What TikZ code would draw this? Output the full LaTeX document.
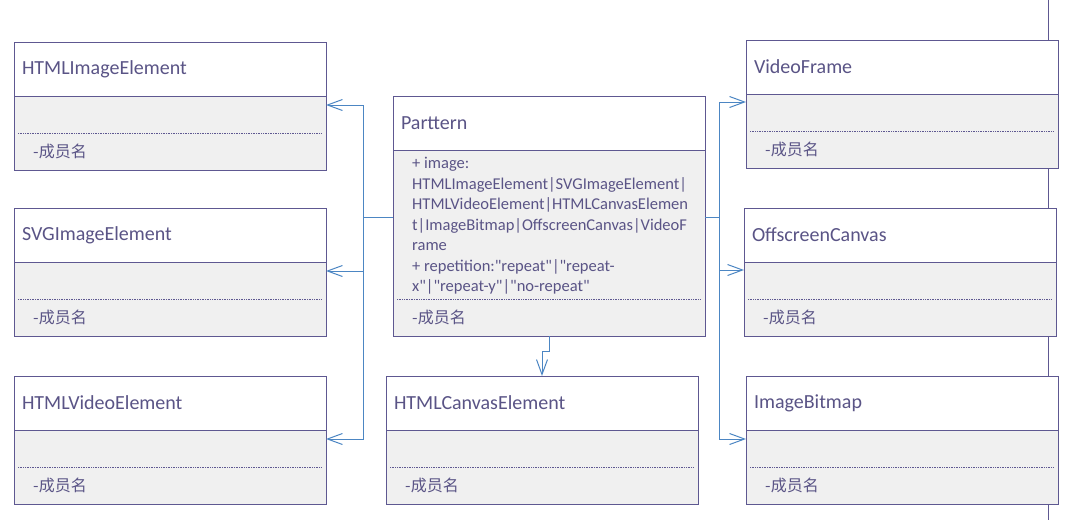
\documentclass[tikz,border=0pt]{standalone}
\usepackage{fontspec}
\setmainfont{Carlito}[Ligatures=TeXOff]
\newfontfamily\cjk{Noto Sans CJK SC}
\usepackage{tikz}
\usetikzlibrary{arrows.meta,positioning}
\definecolor{umlline}{HTML}{5E5891}
\definecolor{umltext}{HTML}{5A5486}
\definecolor{umlfill}{HTML}{F0F0F0}
\definecolor{umllink}{HTML}{4C86C3}
\tikzstyle{classhead} = [draw=umlline, fill=white, rectangle, line width=1pt, outer sep=0pt, text width=296pt, inner xsep=8pt, inner ysep=0pt, minimum height=54pt, align=left, text=umltext, font=\fontsize{20}{24}\selectfont]
\tikzstyle{classbody} = [draw=umlline, fill=umlfill, rectangle, line width=1pt, outer sep=0pt, minimum width=312pt, inner sep=0pt]
\tikzstyle{member} = [text=umltext, inner sep=0pt, anchor=west, font=\cjk\fontsize{16}{20}\selectfont]
\tikzstyle{attrs} = [text=umltext, inner sep=0pt, align=left, font=\fontsize{16.5}{20.5}\selectfont]
\tikzstyle{sep} = [draw=umlline, densely dotted, line width=0.7pt]
\tikzstyle{link} = [draw=umllink, line width=1pt, -{Straight Barb[length=15pt,width=11pt]}]
\newcommand{\umlclass}[5]{%
  \node[classhead, anchor=north west] (#1) at (#2,#3) {#4};
  \node[classbody, minimum height=#5, below=0pt of #1] (#1-b) {};
  \draw[sep] ([shift={(4pt,37pt)}]#1-b.south west) -- ([shift={(-4pt,37pt)}]#1-b.south east);
  \node[member] at ([shift={(19pt,19pt)}]#1-b.south west) {-成员名};
}

\begin{document}
\begin{tikzpicture}[x=1pt,y=-1pt]
  \useasboundingbox (0,0) rectangle (1072,520);
  \draw[umlline, line width=1pt] (1048,0) -- (1048,520);

  \umlclass{img}{14}{42}{HTMLImageElement}{74pt}
  \umlclass{svg}{14}{208}{SVGImageElement}{74pt}
  \umlclass{vid}{14}{376}{HTMLVideoElement}{74pt}
  \umlclass{pat}{393}{96}{Parttern}{186pt}
  \umlclass{cvs}{386}{376}{HTMLCanvasElement}{74pt}
  \umlclass{vfr}{746}{40}{VideoFrame}{74pt}
  \umlclass{osc}{744}{208}{OffscreenCanvas}{74pt}
  \umlclass{ibm}{746}{376}{ImageBitmap}{74pt}

  \node[attrs, anchor=north west] (pat-attr) at ([shift={(19pt,-7pt)}]pat-b.north west)
    {+ image:\\
     HTMLImageElement|SVGImageElement|\\
     HTMLVideoElement|HTMLCanvasElemen\\
     t|ImageBitmap|OffscreenCanvas|VideoF\\
     rame\\
     + repetition:"repeat"|"repeat-\\
     x"|"repeat-y"|"no-repeat"};

  % links from Parttern
  \coordinate (lj) at (363,217);
  \coordinate (rj) at (719,217);
  \draw[link] (pat-b.west |- lj) -- (lj) |- ([yshift=-9pt]img-b.north east);
  \draw[link] (pat-b.west |- lj) -- (lj) |- ([yshift=-9pt]svg-b.north east);
  \draw[link] (pat-b.west |- lj) -- (lj) |- ([yshift=-9pt]vid-b.north east);
  \draw[link] (pat-b.east |- rj) -- (rj) |- ([yshift=-8pt]vfr-b.north west);
  \draw[link] (pat-b.east |- rj) -- (rj) |- ([yshift=-8pt]osc-b.north west);
  \draw[link] (pat-b.east |- rj) -- (rj) |- ([yshift=-9pt]ibm-b.north west);
  \draw[link] (pat-b.south) -- ++(0,15) -| (cvs.north);
\end{tikzpicture}
\end{document}
